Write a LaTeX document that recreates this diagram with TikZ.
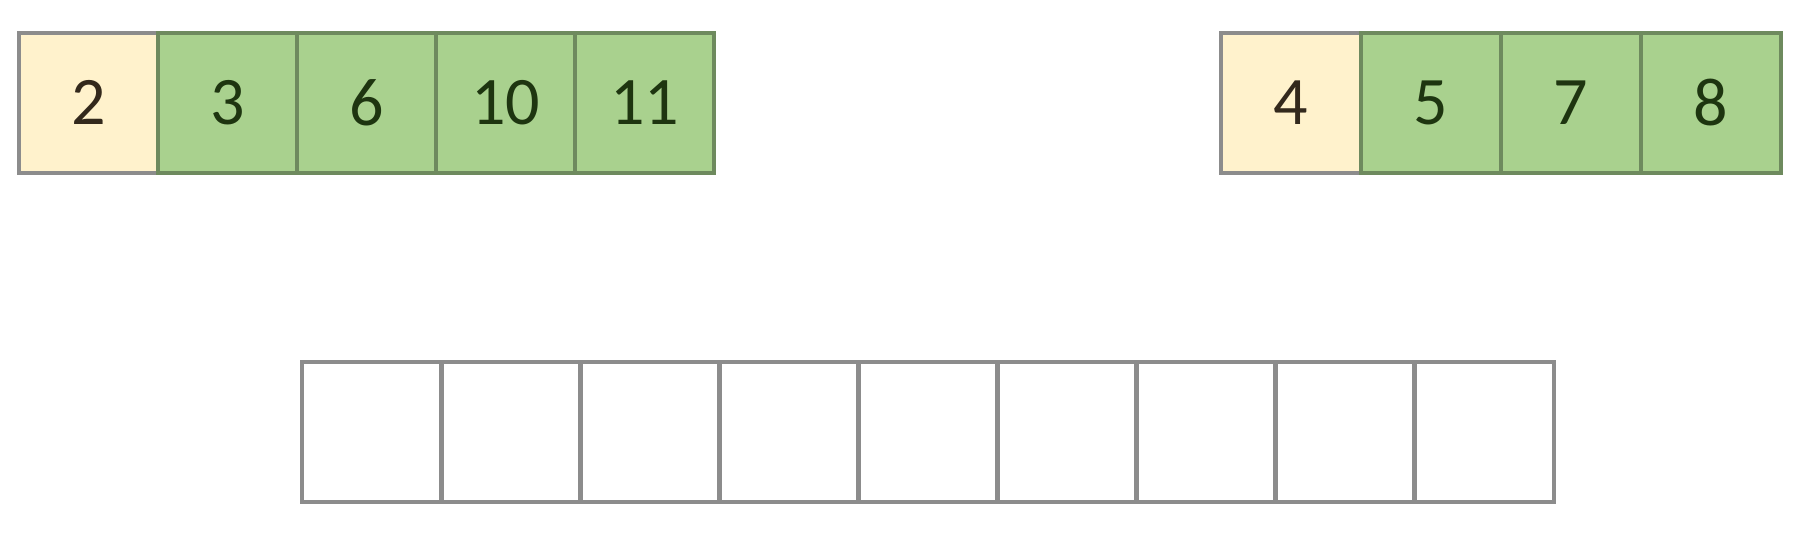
\documentclass[tikz,border=0pt]{standalone}
\usepackage{fontspec}
\setmainfont{Carlito}
\definecolor{creamfill}{HTML}{FFF2CC}
\definecolor{greenfill}{HTML}{A9D18E}
\definecolor{greenline}{HTML}{6E8A5E}
\definecolor{greyline}{HTML}{8C8C8C}
\definecolor{txtgreen}{HTML}{1E3510}
\definecolor{txtcream}{HTML}{33291C}
\begin{document}
\begin{tikzpicture}[x=0.5pt,y=-0.5pt,
  cellbox/.style={draw, line width=2pt, minimum width=69.5pt, minimum height=70pt, inner sep=0pt, font=\fontsize{34}{40}\selectfont},
  creamcell/.style={cellbox, fill=creamfill, draw=greyline, text=txtcream},
  greencell/.style={cellbox, fill=greenfill, draw=greenline, text=txtgreen},
  emptycell/.style={cellbox, fill=white, draw=greyline, line width=2.4pt, minimum width=69.55pt}]
\useasboundingbox[fill=white] (0,0) rectangle (1806,532);
% top-left array
\node[creamcell] (a1) at (88.5,102.5) {2};
\node[greencell] (a2) at (227.5,102.5) {3};
\node[greencell] (a3) at (366.5,102.5) {6};
\node[greencell] (a4) at (505.5,102.5) {10};
\node[greencell] (a5) at (644.5,102.5) {11};
% top-right array
\node[creamcell, minimum width=70pt] (b1) at (1291,103) {4};
\node[greencell, minimum width=70pt] (b2) at (1431,103) {5};
\node[greencell, minimum width=70pt] (b3) at (1571,103) {7};
\node[greencell, minimum width=70pt] (b4) at (1711,103) {8};
% bottom empty array
\foreach \i in {0,...,8} {
  \node[emptycell] (c\i) at ({302+139.1*(\i+0.5)},432) {};
}
\end{tikzpicture}
\end{document}
